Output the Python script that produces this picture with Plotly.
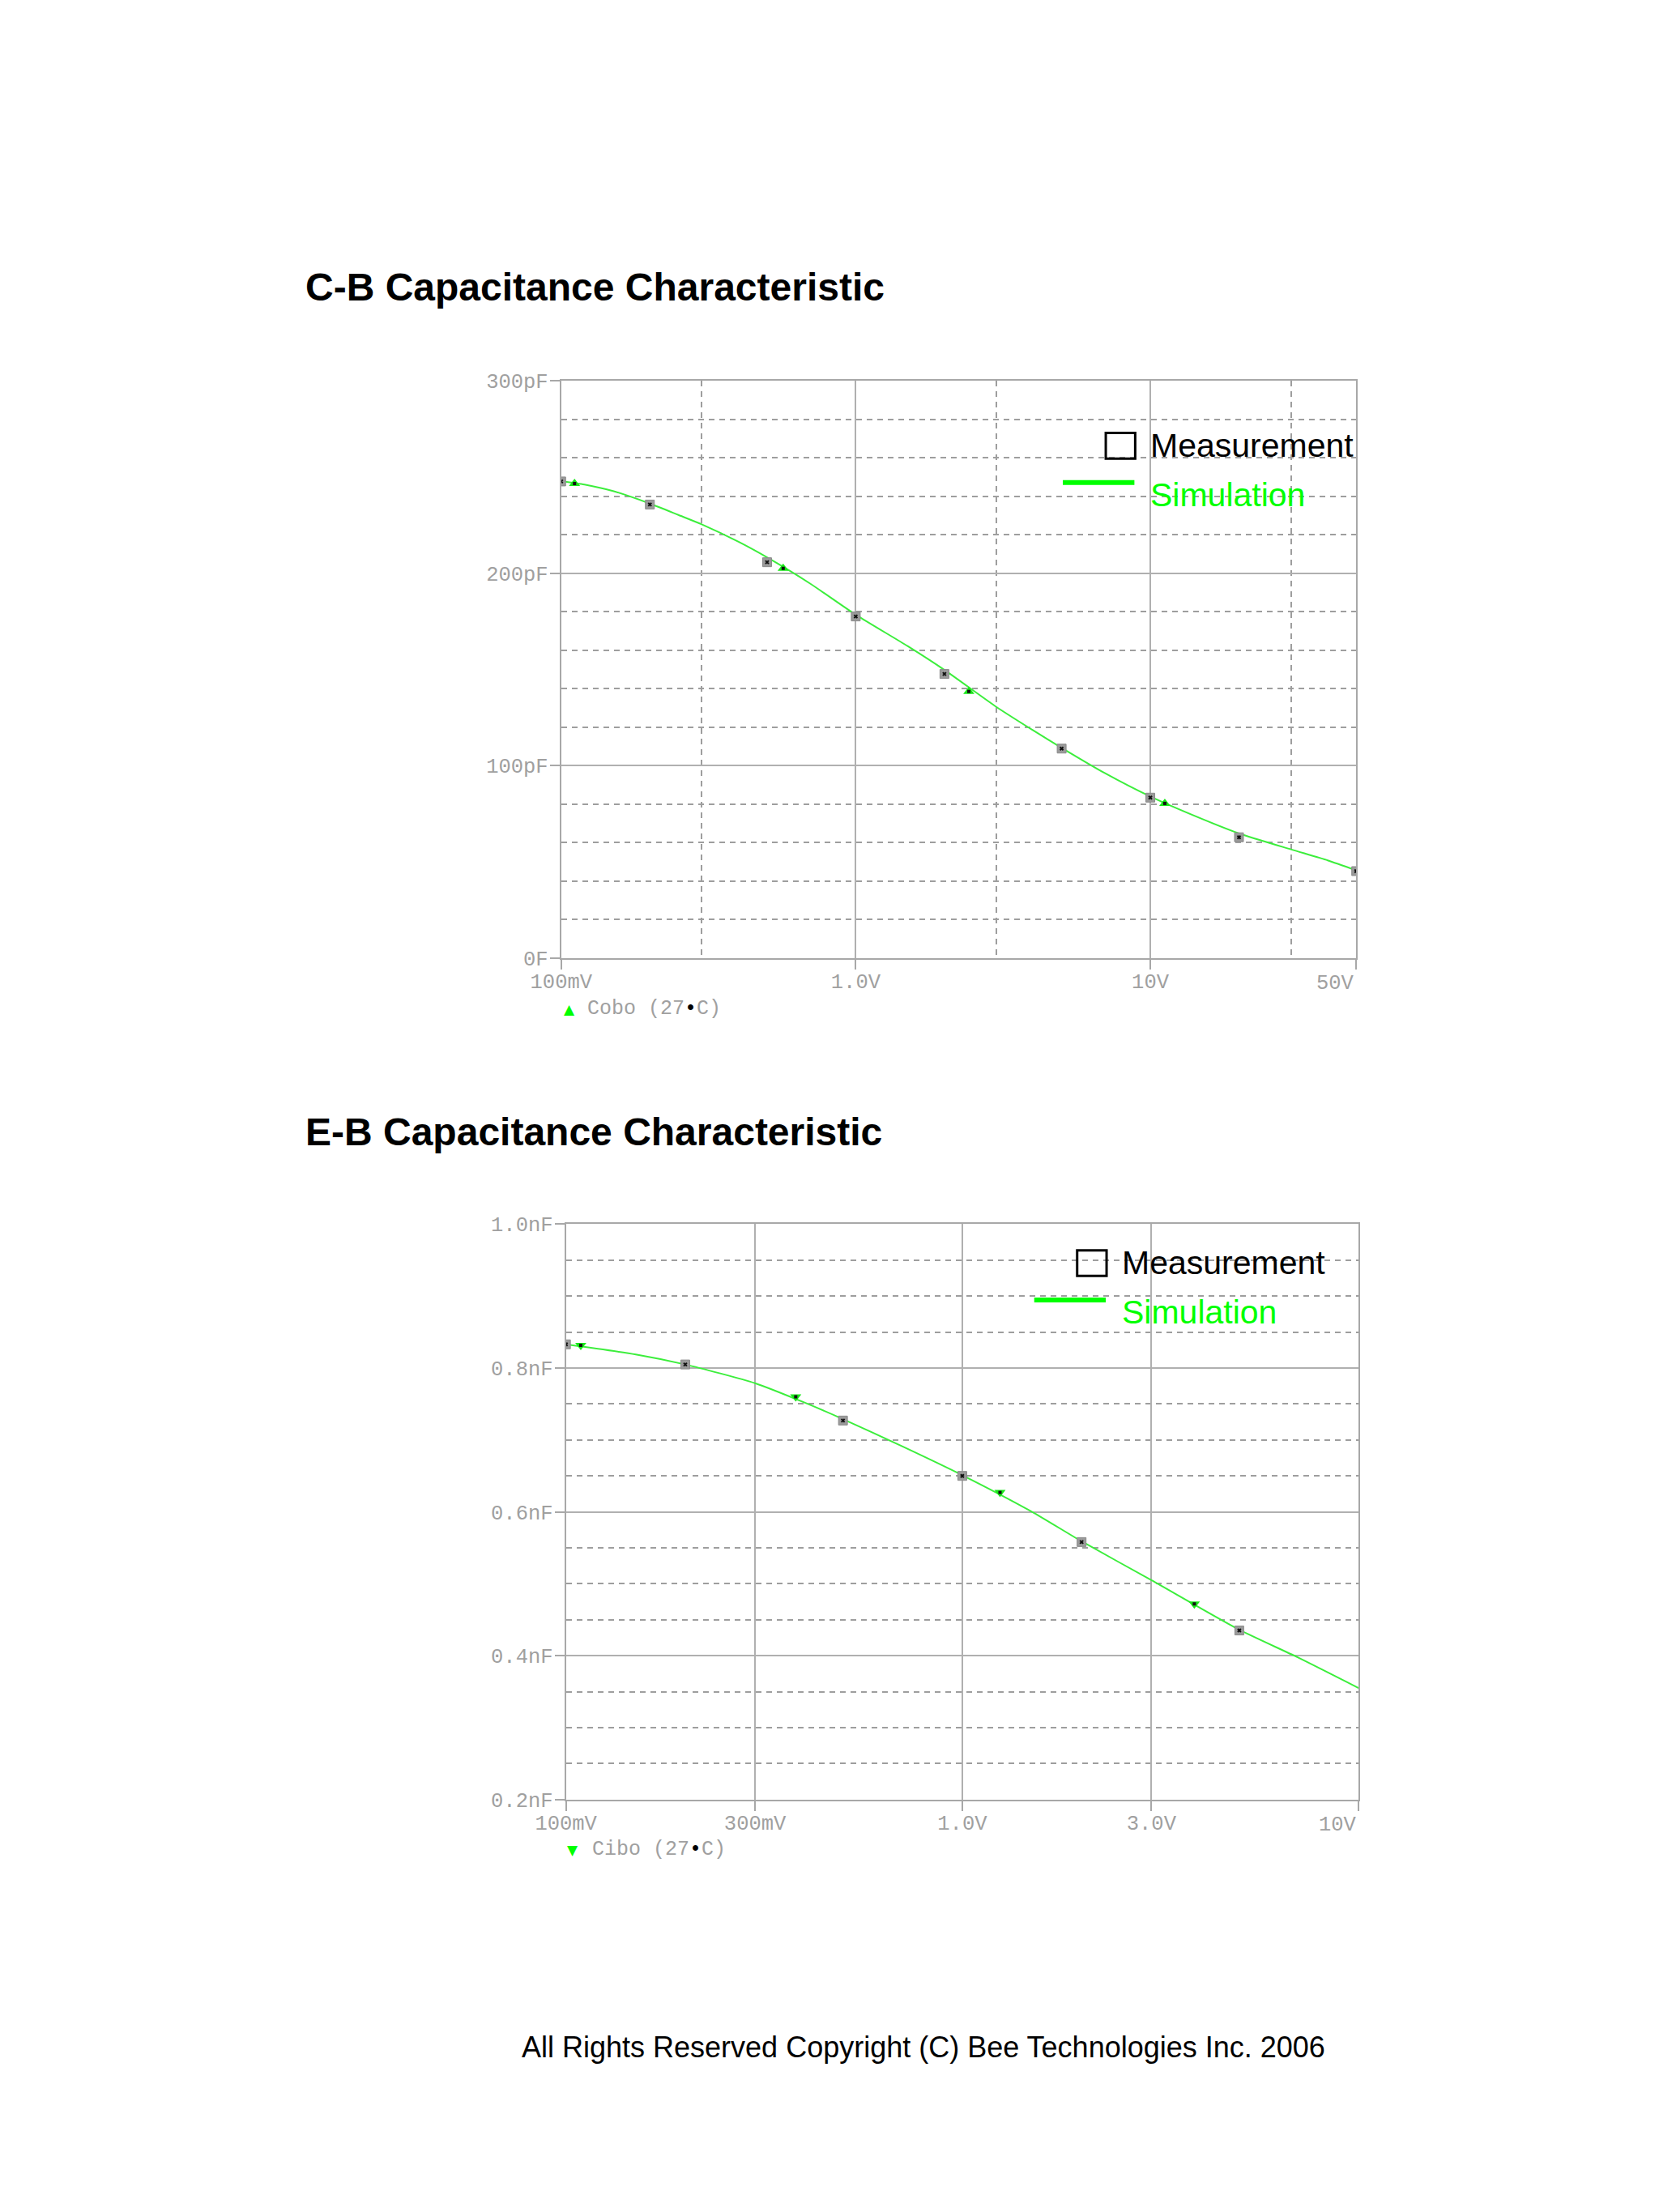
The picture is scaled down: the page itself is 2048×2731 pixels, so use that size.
"""Capacitance characteristic charts (measurement vs. simulation).

Two PSpice-style log/linear plots on one page: C-B (Cobo) and E-B (Cibo).
"""

import math

import plotly.graph_objects as go

W, H = 2048, 2731
PAGE_OFFSET = 8  # browser body margin, in px

# C-B capacitance, Cobo (V, pF)
cb_meas_v = [0.1, 0.2, 0.5, 1.0, 2.0, 5.0, 10.0, 20.0, 50.0]
cb_meas_c = [247.8, 235.8, 205.8, 177.6, 147.7, 108.9, 83.4, 62.8, 45.2]
cb_sim_v = [0.1, 0.12, 0.15, 0.2, 0.25, 0.3, 0.4, 0.5, 0.7, 1.0, 1.5,
            2.0, 3.0, 4.0, 5.0, 7.0, 10.0, 15.0, 20.0, 30.0, 40.0, 50.0]
cb_sim_c = [248.0, 246.2, 242.8, 236.3, 230.4, 225.5, 216.4, 208.3, 194.7, 178.5, 162.2,
            149.8, 130.6, 118.4, 109.3, 96.2, 84.0, 72.3, 64.8, 56.5, 50.8, 45.6]
cb_mark_v = [0.111, 0.567, 2.42, 11.2]
cb_mark_c = [246.7, 202.6, 138.6, 80.4]
cb_xticks = [0.1, 1.0, 10.0, 50.0]
cb_xtext = ["100mV", "1.0V", "10V", ""]
cb_yticks = [0, 100, 200, 300]
cb_ytext = ["0F", "100pF", "200pF", "300pF"]

# E-B capacitance, Cibo (V, nF)
eb_meas_v = [0.1, 0.2, 0.5, 1.0, 2.0, 5.0]
eb_meas_c = [0.833, 0.805, 0.727, 0.650, 0.558, 0.435]
eb_sim_v = [0.1, 0.15, 0.2, 0.3, 0.4, 0.5, 0.7, 1.0, 1.5, 2.0, 3.0, 5.0, 7.0, 10.0]
eb_sim_c = [0.833, 0.819, 0.805, 0.779, 0.752, 0.729, 0.692, 0.651, 0.600, 0.559,
            0.505, 0.436, 0.398, 0.355]
eb_mark_v = [0.109, 0.38, 1.245, 3.85]
eb_mark_c = [0.8315, 0.760, 0.627, 0.472]
eb_xticks = [0.1, 0.3, 1.0, 3.0, 10.0]
eb_xtext = ["100mV", "300mV", "1.0V", "3.0V", ""]
eb_yticks = [0.2, 0.4, 0.6, 0.8, 1.0]
eb_ytext = ["0.2nF", "0.4nF", "0.6nF", "0.8nF", "1.0nF"]

GREEN = "#00ff00"
TRACE_GREEN = "#3cee3c"
TICK_FONT = dict(family="Liberation Mono, Courier New, monospace", size=25.5, color="#a0a0a0")
SANS = "Liberation Sans, Arial, sans-serif"


def px(x):
    return (x - PAGE_OFFSET) / W


def py(y):
    return 1 - (y - PAGE_OFFSET) / H


def add_chart(fig, n, v_meas, c_meas, v_sim, c_sim, v_mark, c_mark, tri):
    xa, ya = ("x", "y") if n == 1 else (f"x{n}", f"y{n}")
    # simulation trace with its PSpice trace markers
    fig.add_trace(go.Scatter(x=v_sim, y=c_sim, mode="lines", xaxis=xa, yaxis=ya,
                             line=dict(color=TRACE_GREEN, width=2, shape="spline", smoothing=0.6)))
    fig.add_trace(go.Scatter(x=v_mark, y=c_mark, mode="markers", xaxis=xa, yaxis=ya,
                             marker=dict(symbol=tri, size=12, color="#18e818")))
    fig.add_trace(go.Scatter(x=v_mark, y=c_mark, mode="markers", xaxis=xa, yaxis=ya,
                             marker=dict(symbol="square", size=4, color="#111111")))
    # measured points: gray square with dark dot pattern
    fig.add_trace(go.Scatter(x=v_meas, y=c_meas, mode="markers", xaxis=xa, yaxis=ya,
                             marker=dict(symbol="square", size=11, color="#9a9a9a",
                                         line=dict(color="#8a8a8a", width=1))))
    fig.add_trace(go.Scatter(x=v_meas, y=c_meas, mode="markers", xaxis=xa, yaxis=ya,
                             marker=dict(symbol="x-thin", size=4,
                                         line=dict(color="#111111", width=2))))


def axis_common():
    return dict(
        showline=True, mirror=True, linecolor="#a8a8a8", linewidth=2,
        showgrid=True, gridcolor="#b0b0b0", gridwidth=2,
        ticks="outside", ticklen=12, tickcolor="#a8a8a8", tickwidth=2,
        tickfont=TICK_FONT, zeroline=False, tickmode="array",
    )


fig = go.Figure()
add_chart(fig, 1, cb_meas_v, cb_meas_c, cb_sim_v, cb_sim_c, cb_mark_v, cb_mark_c, "triangle-up")
add_chart(fig, 2, eb_meas_v, eb_meas_c, eb_sim_v, eb_sim_c, eb_mark_v, eb_mark_c, "triangle-down")

minor_dash = dict(showgrid=True, gridcolor="#9e9e9e", gridwidth=2, griddash="7px,6px", ticks="")

fig.update_layout(
    width=W, height=H,
    paper_bgcolor="white", plot_bgcolor="white",
    showlegend=False,
    margin=dict(l=0, r=0, t=0, b=0),
    xaxis=dict(**axis_common(), type="log", range=[-1, math.log10(50)],
               domain=[px(667), px(1667)], anchor="y",
               tickvals=cb_xticks, ticktext=cb_xtext, ticklabelstandoff=-7,
               minor=dict(tickvals=[0.3, 3, 30], **minor_dash)),
    yaxis=dict(**axis_common(), range=[0, 300], domain=[py(1183.3), py(463.3)], anchor="x",
               tickvals=cb_yticks, ticktext=cb_ytext, ticklabelstandoff=-3,
               minor=dict(dtick=20, **minor_dash)),
    xaxis2=dict(**axis_common(), type="log", range=[-1, 1],
                domain=[px(673), px(1670)], anchor="y2",
                tickvals=eb_xticks, ticktext=eb_xtext, ticklabelstandoff=-7),
    yaxis2=dict(**axis_common(), range=[0.2, 1.0], domain=[py(2233.3), py(1515.5)], anchor="x2",
                tickvals=eb_yticks, ticktext=eb_ytext, ticklabelstandoff=-3,
                minor=dict(dtick=0.05, **minor_dash)),
)

# Page titles and footer
for text, y in [("C-B Capacitance Characteristic", 346), ("E-B Capacitance Characteristic", 1400)]:
    fig.add_annotation(text=f"<b>{text}</b>", xref="paper", yref="paper", x=px(343), y=py(y),
                       xanchor="left", yanchor="middle", showarrow=False,
                       font=dict(family=SANS, size=48, color="black"))
fig.add_annotation(text="All Rights Reserved Copyright (C) Bee Technologies Inc. 2006",
                   xref="paper", yref="paper", x=px(1123), y=py(2542),
                   xanchor="center", yanchor="middle", showarrow=False,
                   font=dict(family=SANS, size=36, color="black"))

# Right-aligned last x tick labels
fig.add_annotation(text="50V", xref="x", yref="paper", x=math.log10(50), y=py(1215),
                   xanchor="right", yanchor="middle", showarrow=False, font=TICK_FONT)
fig.add_annotation(text="10V", xref="x2", yref="paper", x=1, y=py(2265),
                   xanchor="right", yanchor="middle", showarrow=False, font=TICK_FONT)

# Trace names under each plot (PSpice style)
name_font = dict(TICK_FONT, size=25)
for sym, name, x_sym, x_txt, y in [("▲", "Cobo", 677, 698, 1247), ("▼", "Cibo", 681, 704, 2296)]:
    fig.add_annotation(text=sym, xref="paper", yref="paper", x=px(x_sym), y=py(y),
                       xanchor="center", yanchor="middle", showarrow=False,
                       font=dict(family="DejaVu Sans", size=17, color=GREEN))
    fig.add_annotation(text=f"{name} (27<span style='color:black'>•</span>C)",
                       xref="paper", yref="paper", x=px(x_txt), y=py(y),
                       xanchor="left", yanchor="middle", showarrow=False, font=name_font)

# Overlay legends: open square = measurement, green line = simulation
for dx, dy in [(0, 0), (-36, 1020)]:
    fig.add_shape(type="rect", xref="paper", yref="paper",
                  x0=px(1352 + dx), x1=px(1389 + dx), y0=py(560 + dy), y1=py(528 + dy),
                  line=dict(color="black", width=3), fillcolor="rgba(0,0,0,0)")
    fig.add_shape(type="line", xref="paper", yref="paper",
                  x0=px(1298 + dx), x1=px(1388 + dx), y0=py(590 + dy), y1=py(590 + dy),
                  line=dict(color=GREEN, width=6))
    fig.add_annotation(text="Measurement", xref="paper", yref="paper", x=px(1406 + dx), y=py(544 + dy),
                       xanchor="left", yanchor="middle", showarrow=False,
                       font=dict(family=SANS, size=41, color="black"))
    fig.add_annotation(text="Simulation", xref="paper", yref="paper", x=px(1406 + dx), y=py(605 + dy),
                       xanchor="left", yanchor="middle", showarrow=False,
                       font=dict(family=SANS, size=41, color=GREEN))

fig.write_html("out.html")
